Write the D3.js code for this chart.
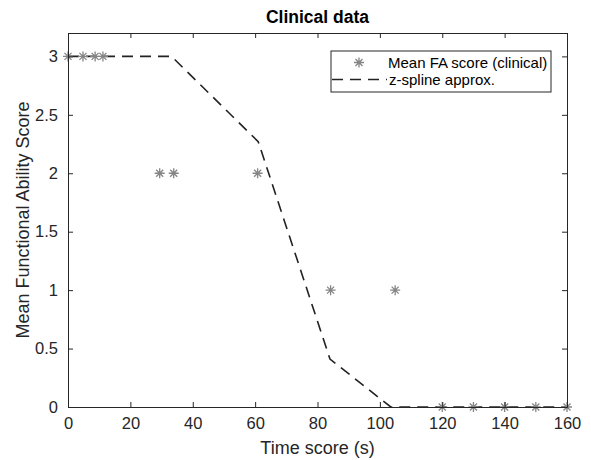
<!DOCTYPE html>
<html>
<head>
<meta charset="utf-8">
<script src="https://cdn.jsdelivr.net/npm/d3@7"></script>
<style>
  body { margin: 0; background: #fff; }
  svg { font-family: "Liberation Sans", Arial, sans-serif; }
</style>
</head>
<body>
<svg id="chart" width="591" height="460"></svg>
<script>
// clinical points
const faTime = [0, 4.8, 8.7, 11.2, 29.4, 33.9, 60.8, 84.2, 104.9, 120, 130, 140, 150, 160];
const faScore = [3, 3, 3, 3, 2, 2, 2, 1, 1, 0, 0, 0, 0, 0];

// z-spline knots
const splineTime = [0, 33.2, 61, 84, 103.5, 160];
const splineScore = [3, 3, 2.27, 0.41, 0, 0];

const xTicks = [0, 20, 40, 60, 80, 100, 120, 140, 160];
const yTicks = [0, 0.5, 1, 1.5, 2, 2.5, 3];

const axisColor = '#262626';
const margin = { left: 68, top: 33, right: 24, bottom: 53 };
const width = 591, height = 460;

const svg = d3.select('#chart');

const x = d3.scaleLinear().domain([0, 160]).range([margin.left, width - margin.right]);
const y = d3.scaleLinear().domain([0, 3.2]).range([height - margin.bottom, margin.top]);

const g = svg.append('g');

// line
const line = d3.line()
    .x(d => x(d[0]))
    .y(d => y(d[1]));

const splinePts = splineTime.map((t, i) => [t, splineScore[i]]);

g.append('path')
    .datum(splinePts)
    .attr('d', line)
    .attr('fill', 'none')
    .attr('stroke', '#222')
    .attr('stroke-width', 1.6)
    .attr('stroke-dasharray', '11,7');

// asterisk marker
function star(sel, r) {
    const a = r * Math.SQRT1_2;
    sel.append('path')
        .attr('d', `M${-r},0H${r}M0,${-r}V${r}M${-a},${-a}L${a},${a}M${-a},${a}L${a},${-a}`)
        .attr('stroke', '#858585')
        .attr('stroke-width', 1.3)
        .attr('fill', 'none');
}

const pts = faTime.map((t, i) => [t, faScore[i]]);
g.selectAll('g.pt')
    .data(pts)
    .enter().append('g')
    .attr('class', 'pt')
    .attr('transform', d => `translate(${x(d[0])},${y(d[1])})`)
    .each(function() { star(d3.select(this), 5); });

// axes
const tickFont = 16.5;

const xAxis = svg.append('g')
    .attr('transform', `translate(0,${y(0)})`)
    .call(d3.axisBottom(x).tickValues(xTicks).tickSizeInner(-5).tickSizeOuter(0).tickPadding(10));
const xTop = svg.append('g')
    .attr('transform', `translate(0,${y(3.2)})`)
    .call(d3.axisTop(x).tickValues(xTicks).tickSizeInner(-5).tickSizeOuter(0).tickFormat(''));
const yAxis = svg.append('g')
    .attr('transform', `translate(${x(0)},0)`)
    .call(d3.axisLeft(y).tickValues(yTicks).tickSizeInner(-5).tickSizeOuter(0).tickPadding(10).tickFormat(d => d));
const yRight = svg.append('g')
    .attr('transform', `translate(${x(160)},0)`)
    .call(d3.axisRight(y).tickValues(yTicks).tickSizeInner(-5).tickSizeOuter(0).tickFormat(''));

[xAxis, xTop, yAxis, yRight].forEach(a => {
    a.select('.domain').attr('stroke', axisColor);
    a.selectAll('.tick line').attr('stroke', axisColor);
    a.selectAll('.tick text')
        .attr('fill', axisColor)
        .style('font-size', tickFont + 'px')
        .style('font-family', '"Liberation Sans", Arial, sans-serif');
});

// labels
svg.append('text')
    .attr('x', (x(0) + x(160)) / 2)
    .attr('y', 454)
    .attr('text-anchor', 'middle')
    .attr('fill', axisColor)
    .style('font-size', '18px')
    .text('Time score (s)');

svg.append('text')
    .attr('transform', `translate(29,${(y(0) + y(3.2)) / 2}) rotate(-90)`)
    .attr('text-anchor', 'middle')
    .attr('fill', axisColor)
    .style('font-size', '18px')
    .text('Mean Functional Ability Score');

svg.append('text')
    .attr('x', (x(0) + x(160)) / 2)
    .attr('y', 23)
    .attr('text-anchor', 'middle')
    .attr('fill', '#000')
    .style('font-size', '17.5px')
    .style('font-weight', 'bold')
    .text('Clinical data');

// legend
const leg = svg.append('g').attr('transform', 'translate(331,51)');
leg.append('rect')
    .attr('width', 220).attr('height', 41)
    .attr('fill', '#fff')
    .attr('stroke', axisColor)
    .attr('stroke-width', 1);

leg.append('g')
    .attr('transform', 'translate(28,11.5)')
    .call(s => star(s, 5));
leg.append('text')
    .attr('x', 57).attr('y', 16.5)
    .attr('fill', '#000')
    .style('font-size', '15px')
    .text('Mean FA score (clinical)');

leg.append('line')
    .attr('x1', 1).attr('x2', 56)
    .attr('y1', 28.5).attr('y2', 28.5)
    .attr('stroke', '#222')
    .attr('stroke-width', 1.6)
    .attr('stroke-dasharray', '11,7');
leg.append('text')
    .attr('x', 58).attr('y', 33.5)
    .attr('fill', '#000')
    .style('font-size', '15px')
    .text('z-spline approx.');
</script>
</body>
</html>
